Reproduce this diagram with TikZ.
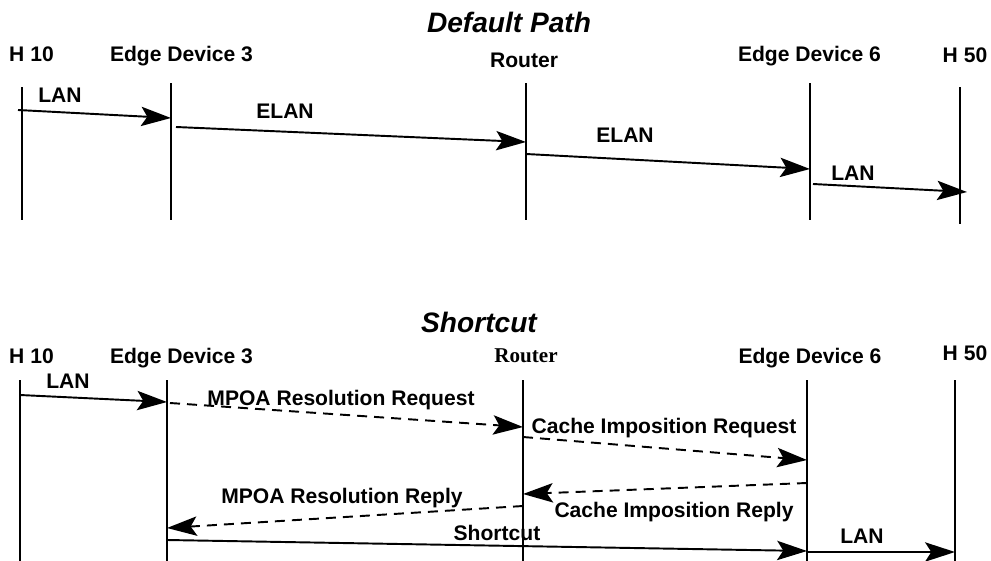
\documentclass[tikz,border=0pt]{standalone}
\usepackage{fontspec}
\setmainfont{Liberation Sans}
\newfontfamily\routerfont{Liberation Serif}
\usepackage{tikz}
\usetikzlibrary{arrows.meta,positioning}
\tikzset{
    ttl/.style={font=\bfseries\itshape\fontsize{16}{19}\selectfont, anchor=base, inner sep=0pt},
    hdr/.style={font=\bfseries\fontsize{12}{14}\selectfont, anchor=base, inner sep=0pt},
    lbl/.style={font=\bfseries\fontsize{12}{14}\selectfont, anchor=base, inner sep=0pt},
    lifeline/.style={line width=1.1pt},
    solidmsg/.style={-{Stealth[length=17pt, width=11pt, inset=3.5pt]}, line width=1.1pt},
    dashedmsg/.style={-{Stealth[length=17pt, width=11pt, inset=3.5pt]}, line width=1.1pt, dash pattern=on 5.7pt off 4pt},
}

\begin{document}
\begin{tikzpicture}[x=0.02cm, y=-0.02cm]
\useasboundingbox (0,0) rectangle (991,561);

% ---- default path
\node[ttl] (titleA) at (509,32) {Default Path};
\node[hdr] (hA1) at (31.5,61) {H 10};
\node[hdr] (hA2) at (181.5,61) {Edge Device 3};
\node[hdr] (hA3) at (524,67) {Router};
\node[hdr] (hA4) at (809.5,61) {Edge Device 6};
\node[hdr] (hA5) at (965,62) {H 50};

\coordinate (lA1t) at (22,87);   \coordinate (lA1b) at (22,220);
\coordinate (lA2t) at (171,83);  \coordinate (lA2b) at (171,220);
\coordinate (lA3t) at (526,83);  \coordinate (lA3b) at (526,220);
\coordinate (lA4t) at (810,83);  \coordinate (lA4b) at (810,220);
\coordinate (lA5t) at (960,87);  \coordinate (lA5b) at (960,224);
\foreach \i in {1,...,5}
    \draw[lifeline] (lA\i t) -- (lA\i b);

\coordinate (mA1s) at (18,110);  \coordinate (mA1e) at (171,118);
\coordinate (mA2s) at (176,127); \coordinate (mA2e) at (526,142);
\coordinate (mA3s) at (526,154); \coordinate (mA3e) at (810,169);
\coordinate (mA4s) at (813,184); \coordinate (mA4e) at (967,192);
\draw[solidmsg] (mA1s) -- (mA1e);
\draw[solidmsg] (mA2s) -- (mA2e);
\draw[solidmsg] (mA3s) -- (mA3e);
\draw[solidmsg] (mA4s) -- (mA4e);
\node[lbl] (tA1) at (60,102) {LAN};
\node[lbl] (tA2) at (285,118) {ELAN};
\node[lbl] (tA3) at (625,142) {ELAN};
\node[lbl] (tA4) at (853,180) {LAN};

% ---- shortcut
\node[ttl] (titleB) at (479,332) {Shortcut};
\node[hdr] (hB1) at (31.5,363) {H 10};
\node[hdr] (hB2) at (181.5,363) {Edge Device 3};
\node[hdr, font=\routerfont\bfseries\fontsize{12}{14}\selectfont] (hB3) at (526,362) {Router};
\node[hdr] (hB4) at (810,363) {Edge Device 6};
\node[hdr] (hB5) at (965,360) {H 50};

\coordinate (lB1t) at (20,380);  \coordinate (lB1b) at (20,561);
\coordinate (lB2t) at (167,380); \coordinate (lB2b) at (167,561);
\coordinate (lB3t) at (523,380); \coordinate (lB3b) at (523,561);
\coordinate (lB4t) at (807,380); \coordinate (lB4b) at (807,561);
\coordinate (lB5t) at (955,380); \coordinate (lB5b) at (955,561);
\foreach \i in {1,...,5}
    \draw[lifeline] (lB\i t) -- (lB\i b);

\coordinate (mB1s) at (20,395);  \coordinate (mB1e) at (167,402);
\coordinate (mB2s) at (170,403); \coordinate (mB2e) at (523,427);
\coordinate (mB3s) at (523,437); \coordinate (mB3e) at (807,460);
\coordinate (mB4s) at (807,483); \coordinate (mB4e) at (523,494);
\coordinate (mB5s) at (523,506); \coordinate (mB5e) at (167,528);
\coordinate (mB6s) at (167,540); \coordinate (mB6e) at (807,551);
\coordinate (mB7s) at (807,552); \coordinate (mB7e) at (955,552);
\draw[solidmsg] (mB1s) -- (mB1e);
\draw[dashedmsg] (mB2s) -- (mB2e);
\draw[dashedmsg] (mB3s) -- (mB3e);
\draw[dashedmsg] (mB4s) -- (mB4e);
\draw[dashedmsg] (mB5s) -- (mB5e);
\draw[solidmsg] (mB6s) -- (mB6e);
\draw[solidmsg] (mB7s) -- (mB7e);
\node[lbl] (tB1) at (68,388) {LAN};
\node[lbl] (tB2) at (341,405) {MPOA Resolution Request};
\node[lbl] (tB3) at (664,433) {Cache Imposition Request};
\node[lbl] (tB4) at (674,517) {Cache Imposition Reply};
\node[lbl] (tB5) at (342,503) {MPOA Resolution Reply};
\node[lbl] (tB6) at (497,540) {Shortcut};
\node[lbl] (tB7) at (862,543) {LAN};
\end{tikzpicture}
\end{document}
